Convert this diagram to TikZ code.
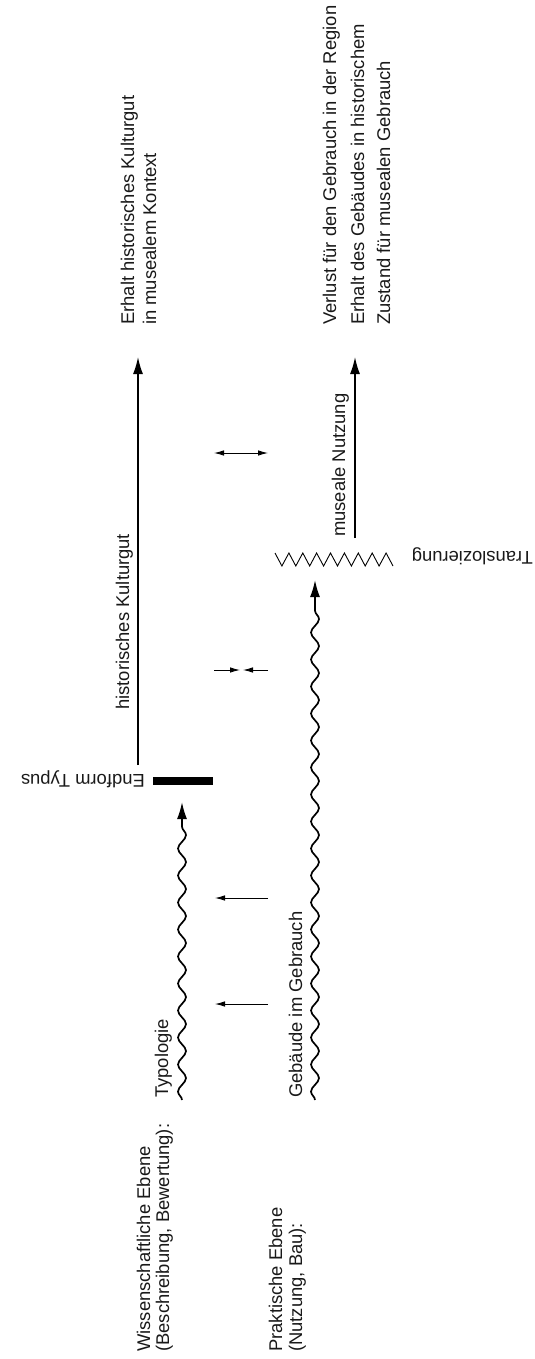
\documentclass[tikz,border=0pt]{standalone}
\usepackage{fontspec}
\setmainfont{Liberation Sans}
\usetikzlibrary{arrows.meta,decorations.pathmorphing}
\begin{document}
\begin{tikzpicture}[x=1pt,y=-1pt,
  lbl/.style={font=\fontsize{18.4}{22}\selectfont, inner sep=0pt, text=black!90},
  up/.style={lbl, rotate=90, anchor=base west},
  flip/.style={lbl, rotate=180, anchor=base west},
  bigtip/.style={-{Latex[length=17pt,width=10pt]}},
  smalltip/.style={-{Latex[length=10pt,width=5.5pt]}},
  dbltip/.style={{Latex[length=10pt,width=5.5pt]}-{Latex[length=10pt,width=5.5pt]}},
  wave/.style={line width=1.7pt, decorate, decoration={snake, segment length=27pt, amplitude=4pt, post length=18pt}},
  thinline/.style={line width=0.9pt},
  thickline/.style={line width=1.5pt}
]
\useasboundingbox (0,0) rectangle (535,1359);

% row labels
\node[up] (w1) at (150,1352) {Wissenschaftliche Ebene};
\node[up] (w2) at (169,1352) {(Beschreibung, Bewertung):};
\node[up] (p1) at (282,1352) {Praktische Ebene};
\node[up] (p2) at (302,1352) {(Nutzung, Bau):};

% scientific level
\node[up] (typ) at (168,1098) {Typologie};
\coordinate (typS) at (182,1100);
\coordinate (typE) at (182,802);
\draw[wave, bigtip] (typS) -- (typE);
\node[fill=black, minimum width=60pt, minimum height=8pt, inner sep=0pt] (bar) at (183,781) {};
\node[flip] (endf) at (145,774) {Endform Typus};
\coordinate (histS) at (138,765);
\coordinate (histE) at (138,357);
\draw[thickline, bigtip] (histS) -- (histE);
\node[up] (hist) at (129,710) {historisches Kulturgut};
\node[up] (e1) at (134,325) {Erhalt historisches Kulturgut};
\node[up] (e2) at (156,325) {in musealem Kontext};

% practical level
\node[up] (geb) at (302,1098) {Gebäude im Gebrauch};
\coordinate (gebS) at (315,1100);
\coordinate (gebE) at (315,580);
\draw[wave, bigtip] (gebS) -- (gebE);
\coordinate (zz) at (275,553);
\draw[thinline] (zz) -- (281.9,566) -- (288.9,553) -- (295.8,566) -- (302.8,553) -- (309.7,566) -- (316.6,553) -- (323.6,566) -- (330.5,553) -- (337.5,566) -- (344.4,553) -- (351.4,566) -- (358.3,553) -- (365.2,566) -- (372.2,553) -- (379.1,566) -- (386.1,553) -- (393.0,566);
\node[flip] (trans) at (533,551) {Translozierung};
\coordinate (musS) at (355,538);
\coordinate (musE) at (355,357);
\draw[thickline, bigtip] (musS) -- (musE);
\node[up] (mus) at (345,537) {museale Nutzung};
\node[up] (v1) at (336,325) {Verlust für den Gebrauch in der Region};
\node[up] (v2) at (364,325) {Erhalt des Gebäudes in historischem};
\node[up] (v3) at (390,325) {Zustand für musealen Gebrauch};

% links between levels
\coordinate (a1s) at (268,1004); \coordinate (a1e) at (215,1004);
\draw[thinline, smalltip] (a1s) -- (a1e);
\coordinate (a2s) at (268,898); \coordinate (a2e) at (215,898);
\draw[thinline, smalltip] (a2s) -- (a2e);
\coordinate (c1s) at (214,670); \coordinate (c1e) at (240,670);
\draw[thinline, smalltip] (c1s) -- (c1e);
\coordinate (c2s) at (268,670); \coordinate (c2e) at (243,670);
\draw[thinline, smalltip] (c2s) -- (c2e);
\coordinate (d1) at (214,453); \coordinate (d2) at (268,453);
\draw[thinline, dbltip] (d1) -- (d2);
\end{tikzpicture}
\end{document}
